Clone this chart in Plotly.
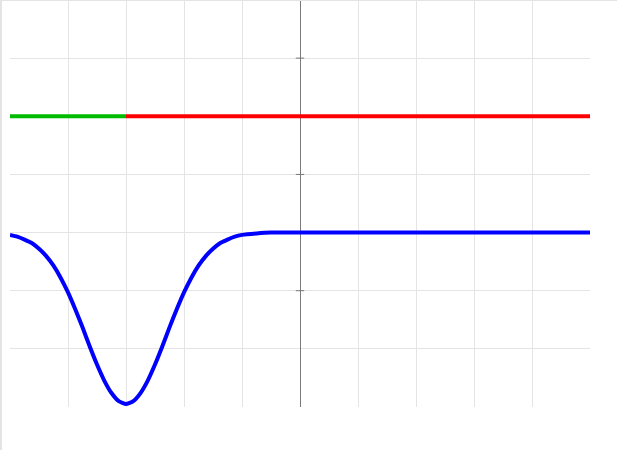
import plotly.graph_objects as go

# data (units: grid steps)
green_x = [-5, -3]
green_y = [1, 1]
red_x = [-3, 5]
red_y = [1, 1]
blue_x = [-5, -4.875, -4.75, -4.625, -4.5, -4.375, -4.25, -4.125, -4, -3.875, -3.75, -3.625,
          -3.5, -3.375, -3.25, -3.125, -3, -2.875, -2.75, -2.625, -2.5, -2.375, -2.25, -2.125,
          -2, -1.875, -1.75, -1.625, -1.5, -1.375, -1.25, -1.125, -1, -0.75, -0.5, 0, 5]
blue_y = [-1.04, -1.07, -1.12, -1.18, -1.28, -1.405, -1.57, -1.78, -2.03, -2.32, -2.63, -2.96,
          -3.27, -3.545, -3.76, -3.90, -3.95, -3.90, -3.76, -3.545, -3.27, -2.96, -2.63, -2.32,
          -2.03, -1.78, -1.57, -1.405, -1.28, -1.18, -1.12, -1.07, -1.04, -1.015, -1.0, -1.0, -1.0]
axis_tick_y = [2, 0, -2]

W, H = 617, 450
L, R, T, B = 10, 27, 0, 43

fig = go.Figure()
fig.add_trace(go.Scatter(x=blue_x, y=blue_y, mode="lines",
                         line=dict(color="#0000ff", width=4, shape="spline", smoothing=0.5)))
fig.add_trace(go.Scatter(x=green_x, y=green_y, mode="lines",
                         line=dict(color="#00bb00", width=4)))
fig.add_trace(go.Scatter(x=red_x, y=red_y, mode="lines",
                         line=dict(color="#ff0000", width=4)))
fig.add_trace(go.Scatter(x=[0] * len(axis_tick_y), y=axis_tick_y, mode="markers",
                         marker=dict(symbol="line-ew", size=6,
                                     line=dict(color="#777777", width=1))))

pw = W - L - R
ph = H - T - B
fig.update_layout(
    width=W, height=H,
    margin=dict(l=L, r=R, t=T, b=B, pad=0),
    paper_bgcolor="white", plot_bgcolor="white",
    showlegend=False, hovermode=False,
    xaxis=dict(range=[-5, 5], dtick=1, showgrid=True, gridcolor="#e4e4e4", gridwidth=1,
               zeroline=True, zerolinecolor="#7a7a7a", zerolinewidth=1,
               showticklabels=False, ticks="", showline=False, fixedrange=True),
    yaxis=dict(range=[-4, 3], dtick=1, showgrid=True, gridcolor="#e4e4e4", gridwidth=1,
               zeroline=False, showticklabels=False, ticks="", showline=False,
               fixedrange=True),
    shapes=[
        dict(type="line", xref="paper", yref="paper",
             x0=(1 - L) / pw, x1=(1 - L) / pw, y0=1, y1=-B / ph,
             line=dict(color="#e4e4e4", width=2)),
        dict(type="line", xref="paper", yref="paper",
             x0=-L / pw, x1=(W - L) / pw, y0=1, y1=1,
             line=dict(color="#e4e4e4", width=2)),
    ],
)

fig.write_html("out.html", config={"displayModeBar": False},
               post_script="document.body.style.margin='0';")
